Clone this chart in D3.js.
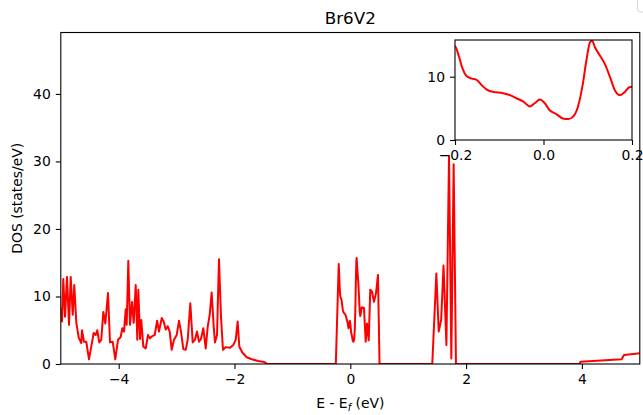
<!DOCTYPE html>
<html>
<head>
<meta charset="utf-8">
<script src="https://cdn.jsdelivr.net/npm/d3@7"></script>
<style>
  body { margin: 0; background: #fff; }
  text { font-family: "DejaVu Sans", sans-serif; fill: #000; }
</style>
</head>
<body>
<div id="chart"></div>
<script>
// DOS curve
const energy = [
  -5.02, -4.979, -4.957, -4.927, -4.893, -4.858, -4.829, -4.794, -4.767, -4.732,
  -4.691, -4.646, -4.634, -4.599, -4.560, -4.513, -4.473, -4.432, -4.397, -4.370,
  -4.335, -4.301, -4.266, -4.231, -4.185, -4.150, -4.104, -4.059, -4.012, -3.965,
  -3.938, -3.908, -3.879, -3.862, -3.834, -3.805, -3.770, -3.741, -3.706, -3.679,
  -3.661, -3.632, -3.610, -3.575, -3.534, -3.494, -3.459, -3.425, -3.378, -3.336,
  -3.304, -3.257, -3.223, -3.188, -3.154, -3.119, -3.085, -3.045, -2.998, -2.959,
  -2.924, -2.884, -2.843, -2.808, -2.763, -2.722, -2.682, -2.648, -2.613, -2.579,
  -2.539, -2.497, -2.463, -2.428, -2.394, -2.359, -2.337, -2.302, -2.268, -2.233,
  -2.199, -2.152, -2.078, -2.021, -1.979, -1.945, -1.917, -1.865, -1.789, -1.703,
  -1.589, -1.485, -1.43, -0.25,
  -0.200, -0.192, -0.183, -0.174, -0.162, -0.151, -0.140, -0.129, -0.114, -0.091,
  -0.076, -0.061, -0.046, -0.031, -0.020, -0.008, 0.003, 0.014, 0.029, 0.044,
  0.056, 0.067, 0.078, 0.089, 0.097, 0.105, 0.110, 0.116, 0.127, 0.138,
  0.150, 0.161, 0.172, 0.184, 0.193, 0.200,
  0.236, 0.266, 0.288, 0.318, 0.345, 0.375, 0.409, 0.444, 0.478, 0.505,
  1.416, 1.486, 1.527, 1.570, 1.610, 1.660, 1.705, 1.745, 1.785, 1.825,
  3.960, 3.975, 4.687, 4.727, 5.02
]
const dos = [
  9.0, 6.3, 12.6, 7.0, 12.9, 5.8, 12.9, 7.3, 11.7, 6.1,
  3.9, 3.1, 5.0, 3.3, 3.3, 0.7, 2.6, 4.6, 4.3, 5.0,
  3.2, 3.6, 7.7, 6.0, 10.5, 3.2, 3.3, 0.7, 3.6, 4.0,
  5.3, 4.8, 8.1, 5.8, 15.3, 5.8, 9.2, 6.1, 11.7, 3.6,
  11.0, 3.7, 6.5, 2.6, 2.3, 4.3, 3.8, 4.1, 4.3, 6.4,
  4.8, 6.8, 6.3, 5.1, 5.6, 4.8, 2.1, 3.6, 4.3, 6.4,
  4.8, 2.2, 2.1, 3.6, 9.0, 3.2, 3.6, 4.8, 3.3, 3.7,
  5.3, 2.3, 5.5, 7.3, 10.6, 5.5, 3.2, 4.3, 15.5, 7.0,
  2.1, 2.5, 2.4, 2.8, 3.6, 6.3, 2.6, 1.7, 1.0, 0.7,
  0.45, 0.3, 0.0, 0.0,
  14.8, 13.4, 11.3, 10.1, 9.7, 9.5, 8.7, 8.0, 7.6, 7.4,
  7.1, 6.6, 6.1, 5.3, 5.8, 6.4, 5.8, 4.7, 4.1, 3.4,
  3.3, 3.7, 5.3, 8.9, 12.6, 15.4, 15.7, 14.7, 13.4, 12.1,
  10.0, 7.9, 7.1, 7.6, 8.3, 8.4,
  8.3, 3.3, 6.0, 3.5, 11.0, 10.7, 9.2, 10.5, 13.2, 0.0,
  0.0, 13.4, 4.8, 6.6, 14.6, 2.8, 30.8, 0.8, 29.6, 0.0,
  0.0, 0.35, 0.7, 1.33, 1.6
]

const xTicks = [-4, -2, 0, 2, 4]
const yTicks = [0, 10, 20, 30, 40]
const insetXTicks = [-0.2, 0.0, 0.2]
const insetYTicks = [0, 10]

const points = energy.map((e, i) => ({ e: e, d: dos[i] }))

const W = 643, H = 415
const MARGIN = { TOP: 32.5, BOTTOM: 51, LEFT: 60.8, RIGHT: 3.2 }
const WIDTH = W - MARGIN.LEFT - MARGIN.RIGHT
const HEIGHT = H - MARGIN.TOP - MARGIN.BOTTOM
const INSET = { x: 455, y: 40, w: 177, h: 100 }

const svg = d3.select("#chart")
  .append("svg")
    .attr("width", W)
    .attr("height", H)

const defs = svg.append("defs")
defs.append("clipPath").attr("id", "clipMain")
  .append("rect").attr("width", WIDTH).attr("height", HEIGHT)
defs.append("clipPath").attr("id", "clipInset")
  .append("rect").attr("width", INSET.w).attr("height", INSET.h)

// legend box sitting mostly off the canvas, top right
svg.append("rect")
  .attr("x", 637.5).attr("y", -20)
  .attr("width", 40).attr("height", 32)
  .attr("rx", 3)
  .attr("fill", "#fff")
  .attr("stroke", "#d6d6d6")

svg.append("text")
  .attr("x", MARGIN.LEFT + WIDTH / 2)
  .attr("y", 24)
  .attr("text-anchor", "middle")
  .attr("font-size", 16.7)
  .text("Br6V2")

const g = svg.append("g")
  .attr("transform", `translate(${MARGIN.LEFT}, ${MARGIN.TOP})`)

const x = d3.scaleLinear().domain([-5, 5]).range([0, WIDTH])
const y = d3.scaleLinear().domain([0, 49.1]).range([HEIGHT, 0])

g.append("path")
  .datum(points)
  .attr("clip-path", "url(#clipMain)")
  .attr("fill", "none")
  .attr("stroke", "#ff0000")
  .attr("stroke-width", 2)
  .attr("stroke-linejoin", "round")
  .attr("d", d3.line().x(d => x(d.e)).y(d => y(d.d)))

const xAxis = g.append("g")
  .attr("transform", `translate(0, ${HEIGHT})`)
  .call(d3.axisBottom(x).tickValues(xTicks).tickSize(5).tickPadding(5).tickFormat(d3.format("d")))
const yAxis = g.append("g")
  .call(d3.axisLeft(y).tickValues(yTicks).tickSize(5).tickPadding(5))

g.append("rect")
  .attr("width", WIDTH).attr("height", HEIGHT)
  .attr("fill", "none").attr("stroke", "#000").attr("stroke-width", 1.1)

g.selectAll(".domain").remove()
g.selectAll(".tick line").attr("stroke", "#000").attr("stroke-width", 1.1)
g.selectAll(".tick text").attr("font-size", 13.9).attr("font-family", "DejaVu Sans")

const xl = svg.append("text")
  .attr("x", MARGIN.LEFT + WIDTH / 2)
  .attr("y", 408)
  .attr("text-anchor", "middle")
  .attr("font-size", 13.9)
xl.append("tspan").text("E - E")
xl.append("tspan").attr("font-size", 9.7).attr("font-style", "italic").attr("dy", 2.5).text("f")
xl.append("tspan").attr("dy", -2.5).text(" (eV)")

svg.append("text")
  .attr("transform", `translate(22, ${MARGIN.TOP + HEIGHT / 2}) rotate(-90)`)
  .attr("text-anchor", "middle")
  .attr("font-size", 13.9)
  .text("DOS (states/eV)")

// inset: zoom around the Fermi level
const ig = svg.append("g")
  .attr("transform", `translate(${INSET.x}, ${INSET.y})`)

const ix = d3.scaleLinear().domain([-0.2, 0.2]).range([0, INSET.w])
const iy = d3.scaleLinear().domain([0, 15.8]).range([INSET.h, 0])

ig.append("rect")
  .attr("width", INSET.w).attr("height", INSET.h)
  .attr("fill", "#fff")

ig.append("path")
  .datum(points.filter(p => p.e >= -0.25 && p.e <= 0.25))
  .attr("clip-path", "url(#clipInset)")
  .attr("fill", "none")
  .attr("stroke", "#ff0000")
  .attr("stroke-width", 2)
  .attr("d", d3.line().curve(d3.curveMonotoneX).x(d => ix(d.e)).y(d => iy(d.d)))

ig.append("g")
  .attr("transform", `translate(0, ${INSET.h})`)
  .call(d3.axisBottom(ix).tickValues(insetXTicks).tickSize(5).tickPadding(5).tickFormat(d3.format(".1f")))
ig.append("g")
  .call(d3.axisLeft(iy).tickValues(insetYTicks).tickSize(5).tickPadding(5))

ig.append("rect")
  .attr("width", INSET.w).attr("height", INSET.h)
  .attr("fill", "none").attr("stroke", "#000").attr("stroke-width", 1.1)

ig.selectAll(".domain").remove()
ig.selectAll(".tick line").attr("stroke", "#000").attr("stroke-width", 1.1)
ig.selectAll(".tick text").attr("font-size", 13.9).attr("font-family", "DejaVu Sans")
</script>
</body>
</html>
